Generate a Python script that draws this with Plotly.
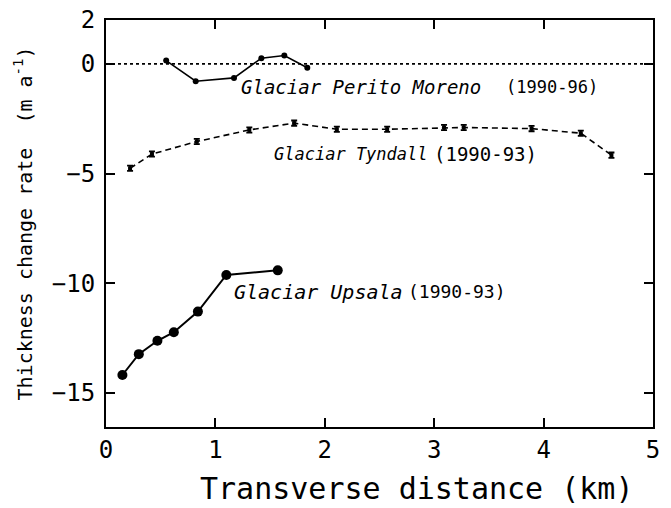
import plotly.graph_objects as go

# Data
upsala_x = [0.15, 0.30, 0.47, 0.62, 0.84, 1.10, 1.57]
upsala_y = [-14.18, -13.23, -12.62, -12.23, -11.29, -9.62, -9.41]

moreno_x = [0.55, 0.82, 1.17, 1.42, 1.63, 1.84]
moreno_y = [0.15, -0.79, -0.64, 0.26, 0.38, -0.18]

tyndall_x = [0.22, 0.42, 0.83, 1.31, 1.72, 2.11, 2.57, 3.09, 3.27, 3.89, 4.34, 4.62]
tyndall_y = [-4.76, -4.11, -3.54, -3.01, -2.70, -2.98, -2.98, -2.90, -2.90, -2.95, -3.16, -4.16]
tyndall_err = [0.12] * len(tyndall_x)

x_ticks = [0, 1, 2, 3, 4, 5]
y_ticks = [2, 0, -5, -10, -15]

FONT = "DejaVu Sans Mono"

fig = go.Figure()

fig.add_trace(go.Scatter(
    x=moreno_x, y=moreno_y, mode="lines+markers",
    line=dict(color="black", width=1.6),
    marker=dict(color="black", size=6),
    showlegend=False))

fig.add_trace(go.Scatter(
    x=tyndall_x, y=tyndall_y, mode="lines+markers",
    line=dict(color="black", width=1.6, dash="6px,4px"),
    marker=dict(color="black", size=4, symbol="square"),
    error_y=dict(type="data", array=tyndall_err, color="black", thickness=1.8, width=3),
    showlegend=False))

fig.add_trace(go.Scatter(
    x=upsala_x, y=upsala_y, mode="lines+markers",
    line=dict(color="black", width=2),
    marker=dict(color="black", size=10),
    showlegend=False))

fig.add_shape(type="line", xref="x", yref="y", x0=0, x1=5, y0=0, y1=0,
              line=dict(color="black", width=1.8, dash="dot"))

ann = [
    ("<i>Glaciar Perito Moreno</i>", 1.22, -1.07, 19),
    ("(1990-96)", 3.64, -1.07, 17),
    ("<i>Glaciar Tyndall</i>", 1.52, -4.11, 17),
    ("(1990-93)", 2.98, -4.11, 19),
    ("<i>Glaciar Upsala</i>", 1.15, -10.39, 20),
    ("(1990-93)", 2.74, -10.39, 18),
]
for t, x, y, s in ann:
    fig.add_annotation(text=t, x=x, y=y, xref="x", yref="y", xanchor="left",
                       yanchor="middle", showarrow=False,
                       font=dict(family=FONT, size=s, color="black"))

# x-axis title as annotation (offset to the right like the reference)
fig.add_annotation(text="Transverse distance (km)", xref="paper", yref="paper",
                   x=0.567, y=-0.152, xanchor="center", yanchor="middle", showarrow=False,
                   font=dict(family=FONT, size=30, color="black"))

axis_common = dict(
    showline=True, linecolor="black", linewidth=2, mirror="ticks",
    ticks="inside", ticklen=9, tickwidth=2, tickcolor="black",
    showgrid=False, zeroline=False, ticklabeloverflow="allow",
    tickfont=dict(family=FONT, size=24, color="black"),
)

fig.update_xaxes(range=[0, 5], tickvals=x_ticks, ticktext=[str(v) for v in x_ticks],
                 automargin=False, **axis_common)
fig.update_yaxes(range=[-16.55, 2], tickvals=y_ticks, ticktext=[str(v).replace("-", "\u2212") for v in y_ticks],
                 ticklabelstandoff=4,
                 title=dict(text="Thickness change rate  (m a<sup>-1</sup>)",
                            font=dict(family=FONT, size=20, color="black"), standoff=14),
                 automargin=False, **axis_common)

fig.update_layout(
    width=663, height=500,
    margin=dict(l=98, r=18, t=12, b=81, autoexpand=False),
    paper_bgcolor="white", plot_bgcolor="white",
    font=dict(family=FONT, color="black"),
)

fig.write_html("out.html")
